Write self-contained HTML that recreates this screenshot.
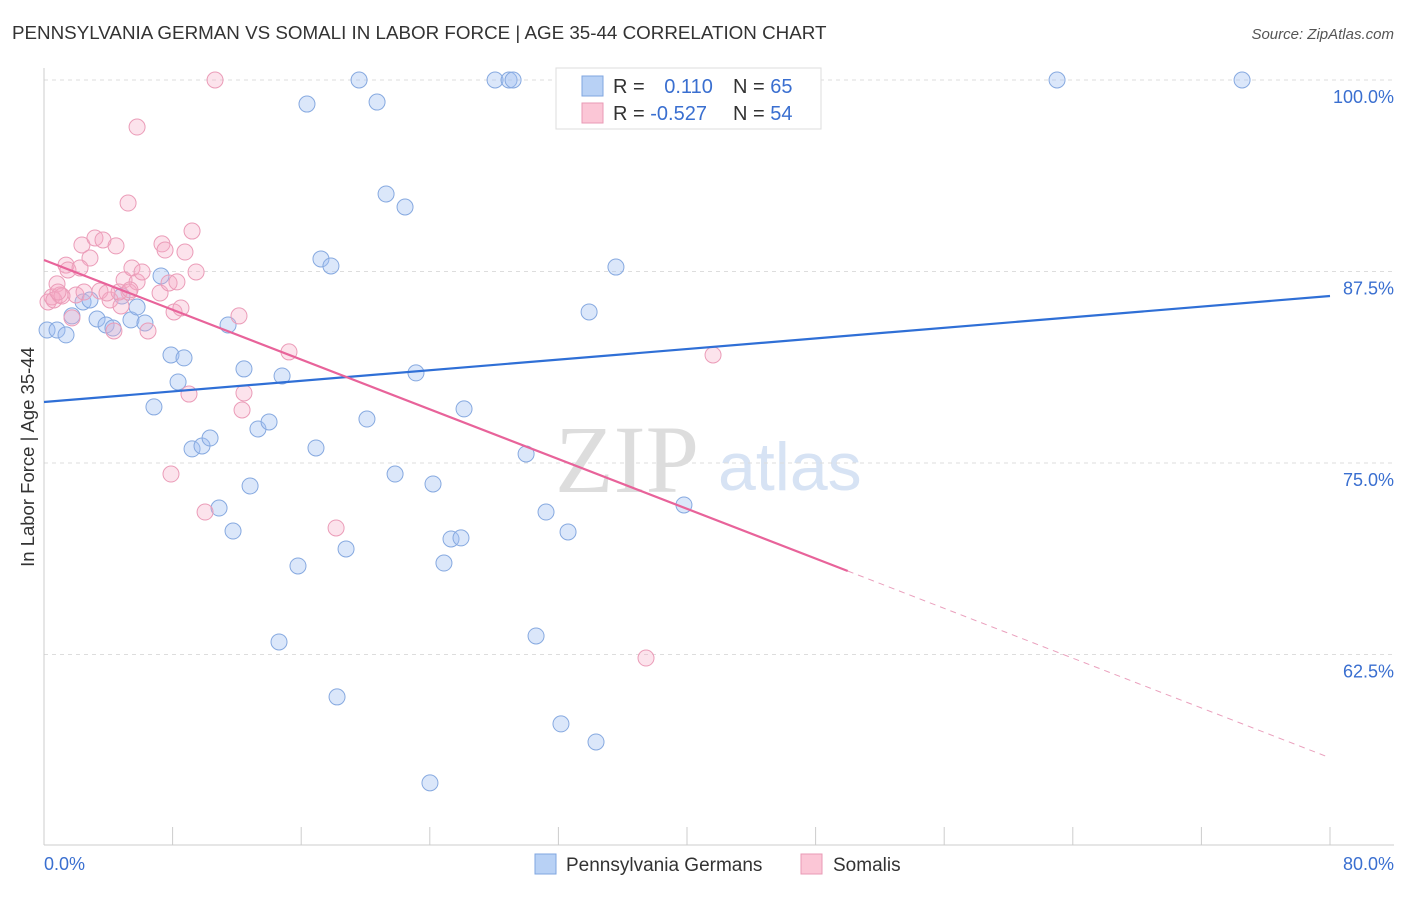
<!DOCTYPE html>
<html><head><meta charset="utf-8"><style>
body{margin:0;background:#fff;font-family:"Liberation Sans",sans-serif;}
</style></head><body>
<svg id="c" width="1406" height="892" xmlns="http://www.w3.org/2000/svg" style="font-family:'Liberation Sans',sans-serif">
<text x="12" y="39" font-size="18.8" fill="#333">PENNSYLVANIA GERMAN VS SOMALI IN LABOR FORCE | AGE 35-44 CORRELATION CHART</text>
<text x="1394" y="39" font-size="15" fill="#555" font-style="italic" text-anchor="end">Source: ZipAtlas.com</text>
<g><text x="555" y="492" font-size="96" fill="#ddd" font-family="Liberation Serif,serif">ZIP</text><text x="718" y="490" font-size="68" fill="#d7e3f4">atlas</text></g>
<g id="grid"></g>
<g id="axes"></g>
<g id="pts"></g>
<g id="trend"></g>
<g>
<rect x="556" y="68" width="265" height="61" fill="#fff" stroke="#ddd"/>
<rect x="582" y="76" width="21" height="20" fill="#b8d1f5" stroke="#7fa6e0"/>
<rect x="582" y="103" width="21" height="20" fill="#fbc6d6" stroke="#e89ab5"/>
<text x="613" y="93" font-size="20" fill="#333">R = <tspan fill="#3a6fd0" dx="14">0.110</tspan></text>
<text x="733" y="93" font-size="20" fill="#333">N = <tspan fill="#3a6fd0">65</tspan></text>
<text x="613" y="120" font-size="20" fill="#333">R = <tspan fill="#3a6fd0">-0.527</tspan></text>
<text x="733" y="120" font-size="20" fill="#333">N = <tspan fill="#3a6fd0">54</tspan></text>
</g>
<g>
<rect x="535" y="854" width="21" height="20" fill="#b8d1f5" stroke="#7fa6e0"/>
<text x="566" y="871" font-size="19" fill="#333">Pennsylvania Germans</text>
<rect x="801" y="854" width="21" height="20" fill="#fbc6d6" stroke="#e89ab5"/>
<text x="833" y="871" font-size="19" fill="#333">Somalis</text>
</g>
<text transform="translate(34,457) rotate(-90)" font-size="18.5" fill="#333" text-anchor="middle">In Labor Force | Age 35-44</text>
</svg>
<script>
const yTicks=[100,87.5,75,62.5];
const yTickLabels=["100.0%","87.5%","75.0%","62.5%"];
const xTickLabels=["0.0%","80.0%"];
const blueX=[0.19,0.81,1.37,1.74,2.43,2.86,3.30,3.86,4.29,4.85,5.41,5.79,6.28,6.84,7.28,7.90,8.34,8.71,9.21,9.83,10.33,10.89,11.45,11.76,12.44,12.82,13.31,14.0,14.81,15.80,14.62,16.36,16.92,17.23,17.85,18.23,18.79,19.60,20.09,20.72,21.28,21.84,22.46,23.14,24.01,24.20,24.88,25.32,25.94,26.13,28.06,28.93,29.18,29.99,30.61,31.23,32.16,32.60,33.91,34.34,35.58,39.81,46.97,63.02,74.53];
const blueY=[83.68,83.68,83.36,84.6,85.51,85.64,84.4,84.01,83.81,85.9,84.34,85.18,84.14,78.66,87.21,82.05,80.29,81.86,75.92,76.11,76.63,72.06,84.01,70.56,81.14,73.5,77.22,77.68,80.68,68.28,63.32,98.43,75.98,88.32,87.86,59.73,69.39,100,77.87,98.56,92.56,74.28,91.71,80.88,54.12,73.63,68.47,70.04,70.11,78.53,100,100,100,75.59,63.71,71.8,57.97,70.5,84.86,56.79,87.79,72.26,100,100,100];
const pinkX=[0.25,0.50,0.81,0.99,1.37,1.49,1.74,1.99,2.36,2.49,2.86,3.17,3.48,3.67,4.11,4.35,4.48,4.79,4.98,5.23,5.29,5.47,5.79,5.79,6.10,6.47,7.22,7.34,7.53,7.78,8.09,8.27,8.52,8.77,9.21,9.46,9.02,7.9,10.02,10.64,12.13,12.32,12.44,15.24,18.17,37.45,41.62,0.62,1.12,3.92,4.67,5.35,2.24,0.87];
const pinkY=[85.51,85.84,86.69,85.97,87.92,87.6,84.47,85.97,89.23,86.16,88.38,89.69,86.23,89.56,85.64,83.62,89.17,85.25,86.95,91.97,86.16,87.73,96.93,86.82,87.47,83.62,86.1,89.3,88.9,86.75,84.86,86.82,85.12,88.77,90.14,87.47,79.5,74.28,71.8,100,84.6,78.46,79.57,82.25,70.76,62.27,82.05,85.64,85.9,86.1,86.16,86.3,87.73,86.16];
const blueTrend=[[0,78.98],[80,85.9]];
const pinkTrend=[[0,88.25],[50.0,67.95]];
const pinkDash=[[50.0,67.95],[79.7,55.88]];
const NS="http://www.w3.org/2000/svg";
const xs=v=>44+v/80*1286;
const ys=v=>80+(100-v)/12.5*191.5;
function mk(tag,attrs,parent){const e=document.createElementNS(NS,tag);for(const k in attrs)e.setAttribute(k,attrs[k]);document.getElementById(parent).appendChild(e);return e;}
yTicks.forEach((t,i)=>{
 let l=mk('line',{x1:44,x2:1394,y1:ys(t),y2:ys(t),stroke:'#ddd','stroke-dasharray':'4,4'},'grid');
 
 
 let tx=mk('text',{x:1394,y:ys(t)+23,'font-size':18,fill:'#3a6fd0','text-anchor':'end'},'axes');
 tx.textContent=yTickLabels[i];
 
 
});
let ax=mk('line',{x1:44,x2:44,y1:68,y2:845,stroke:'#ccc'},'axes');


let bx=mk('line',{x1:44,x2:1394,y1:845,y2:845,stroke:'#ccc'},'axes');


for(let i=0;i<=10;i++){
 let tk=mk('line',{x1:xs(i*8),x2:xs(i*8),y1:827,y2:845,stroke:'#ccc'},'axes');
 
 
}
[[0,'start',44],[80,'end',1394]].forEach((d,i)=>{
 let t=mk('text',{x:d[2],y:870,'font-size':18,fill:'#3a6fd0','text-anchor':d[1]},'axes');
 t.textContent=xTickLabels[i];
 
 
});
function dots(X,Y,fill,stroke,name){X.forEach((x,i)=>{
 let c=mk('circle',{cx:xs(x),cy:ys(Y[i]),r:8,fill:fill,stroke:stroke,'stroke-width':1},'pts');
 
 
});}
dots(blueX,blueY,'rgba(160,192,242,0.38)','#86a9e0','point-pennsylvania-german');
dots(pinkX,pinkY,'rgba(246,170,196,0.33)','#eb9cb8','point-somali');
function line(p,stroke,w,dash,name){
 let l=mk('line',{x1:xs(p[0][0]),y1:ys(p[0][1]),x2:xs(p[1][0]),y2:ys(p[1][1]),stroke:stroke,'stroke-width':w},'trend');
 if(dash)l.setAttribute('stroke-dasharray',dash);
 
 
}
line(blueTrend,'#2f6fd6',2.2,null,'trend-line-pennsylvania-german');
line(pinkTrend,'#e8639a',2.2,null,'trend-line-somali');
line(pinkDash,'#eaa0bd',1,'6,5','trend-line-somali-extrapolated');
</script>
</body></html>
